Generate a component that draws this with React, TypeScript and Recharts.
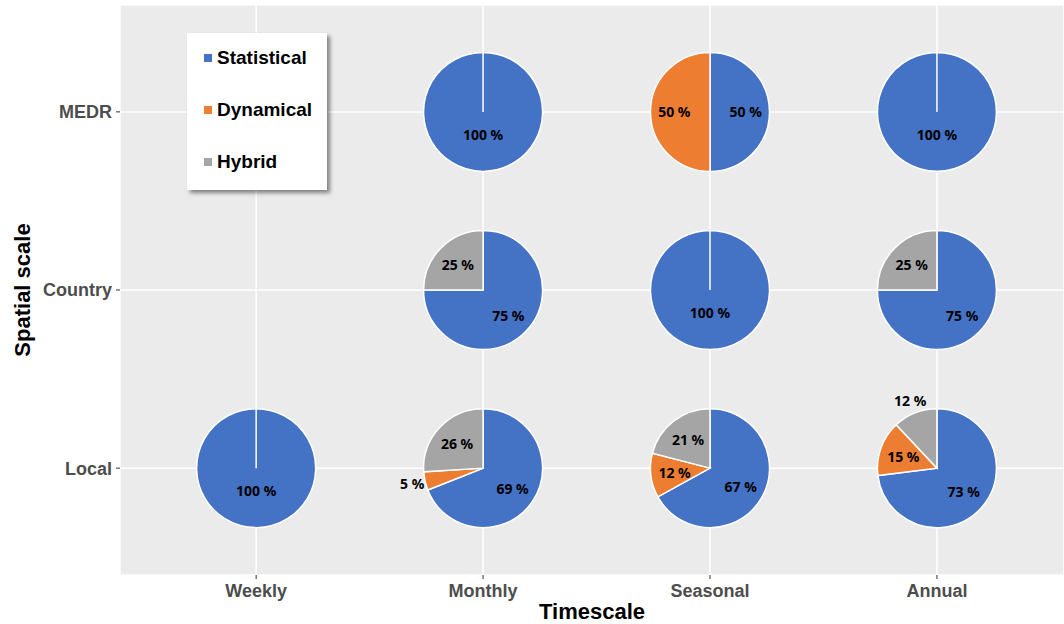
import React from 'react';
import { ScatterChart, Scatter, XAxis, YAxis, CartesianGrid, Sector } from 'recharts';

const TIMESCALES = ['Weekly', 'Monthly', 'Seasonal', 'Annual'];
const SPATIAL_SCALES = ['Local', 'Country', 'MEDR'];
const METHODS = ['Statistical', 'Dynamical', 'Hybrid'];
const COLORS = ['#4472C4', '#ED7D31', '#A5A5A5'];

// one entry per pie (share of studies, %)
const cellTime = ['Weekly', 'Monthly', 'Monthly', 'Monthly', 'Seasonal', 'Seasonal', 'Seasonal', 'Annual', 'Annual', 'Annual'];
const cellSpace = ['Local', 'MEDR', 'Country', 'Local', 'MEDR', 'Country', 'Local', 'MEDR', 'Country', 'Local'];
const statistical = [100, 100, 75, 69, 50, 100, 67, 100, 75, 73];
const dynamical = [0, 0, 0, 5, 50, 0, 12, 0, 0, 15];
const hybrid = [0, 0, 25, 26, 0, 0, 21, 0, 25, 12];

const data = cellTime.map((t, i) => ({
  x: TIMESCALES.indexOf(t) + 1,
  y: SPATIAL_SCALES.indexOf(cellSpace[i]) + 1,
  shares: [statistical[i], dynamical[i], hybrid[i]],
}));

const R = 59.5;
const FONT = "'Liberation Sans', Arial, sans-serif";

const PieGlyph = (props: any) => {
  const { cx, cy, payload } = props;
  const shares: number[] = payload.shares;
  const total = shares.reduce((a, b) => a + b, 0);
  let angle = 90;
  let prev = 100;
  const sectors: React.ReactNode[] = [];
  const labels: React.ReactNode[] = [];
  shares.forEach((v, i) => {
    if (!v) return;
    const sweep = (360 * v) / total;
    const start = angle;
    const end = angle - sweep;
    sectors.push(
      <Sector
        key={'s' + i}
        cx={cx}
        cy={cy}
        innerRadius={0}
        outerRadius={R}
        startAngle={start}
        endAngle={end}
        fill={COLORS[i]}
        stroke="#fff"
        strokeWidth={1.5}
      />
    );
    const mid = (((start + end) / 2) * Math.PI) / 180;
    // small or crowded slices get their label outside the pie
    const outside = v < 10 || (v < 13 && prev < 20);
    const lr = v === total ? R * 0.38 : outside ? R * 1.22 : R * 0.6;
    labels.push(
      <text
        key={'l' + i}
        x={cx + lr * Math.cos(mid)}
        y={cy - lr * Math.sin(mid)}
        textAnchor="middle"
        dominantBaseline="central"
        fontFamily="'Noto Sans', sans-serif"
        fontWeight="bold"
        fontSize={14}
        fill="#000"
      >
        {v} %
      </text>
    );
    angle = end;
    prev = v;
  });
  return (
    <g>
      {sectors}
      {labels}
    </g>
  );
};

const LegendBox = () => (
  <div
    style={{
      position: 'absolute',
      left: 187,
      top: 33,
      width: 140,
      height: 157,
      background: '#fff',
      boxShadow: '3px 3px 4px rgba(0,0,0,0.45)',
      boxSizing: 'border-box',
      paddingTop: 12,
      fontFamily: FONT,
    }}
  >
    {METHODS.map((m, i) => (
      <div key={m} style={{ display: 'flex', alignItems: 'center', height: 26, marginBottom: i < 2 ? 26 : 0, paddingLeft: 17 }}>
        <span style={{ width: 8, height: 8, background: COLORS[i], marginRight: 5 }} />
        <span style={{ fontSize: 19, fontWeight: 'bold', color: '#000' }}>{m}</span>
      </div>
    ))}
  </div>
);

const tickStyle = { fill: '#4D4D4D', fontSize: 18, fontWeight: 'bold', fontFamily: FONT };

export default function App() {
  return (
    <div style={{ position: 'absolute', left: 0, top: 0, width: 1064, height: 624, background: '#fff' }}>
      <ScatterChart width={1064} height={624} margin={{ top: 5, right: 0, bottom: 0, left: 0 }}>
        <CartesianGrid fill="#EBEBEB" stroke="#fff" strokeWidth={1.5} />
        <XAxis
          type="number"
          dataKey="x"
          domain={[0.4, 4.56]}
          ticks={[1, 2, 3, 4]}
          interval={0}
          allowDataOverflow
          tickFormatter={(v: number) => TIMESCALES[v - 1]}
          height={49}
          axisLine={false}
          tickLine={{ stroke: '#333' }}
          tickSize={4}
          tickMargin={5}
          tick={tickStyle}
          label={{
            value: 'Timescale',
            position: 'insideBottom',
            offset: 5,
            style: { fill: '#000', fontSize: 22, fontWeight: 'bold', fontFamily: FONT },
          }}
        />
        <YAxis
          type="number"
          dataKey="y"
          domain={[0.4, 3.6]}
          ticks={[1, 2, 3]}
          interval={0}
          allowDataOverflow
          tickFormatter={(v: number) => SPATIAL_SCALES[v - 1]}
          width={120}
          axisLine={false}
          tickLine={{ stroke: '#333' }}
          tickSize={4}
          tickMargin={4}
          tick={tickStyle}
          label={{
            value: 'Spatial scale',
            angle: -90,
            position: 'insideLeft',
            offset: 22,
            style: { textAnchor: 'middle', fill: '#000', fontSize: 22, fontWeight: 'bold', fontFamily: FONT },
          }}
        />
        <Scatter data={data} shape={PieGlyph} isAnimationActive={false} />
      </ScatterChart>
      <LegendBox />
    </div>
  );
}
